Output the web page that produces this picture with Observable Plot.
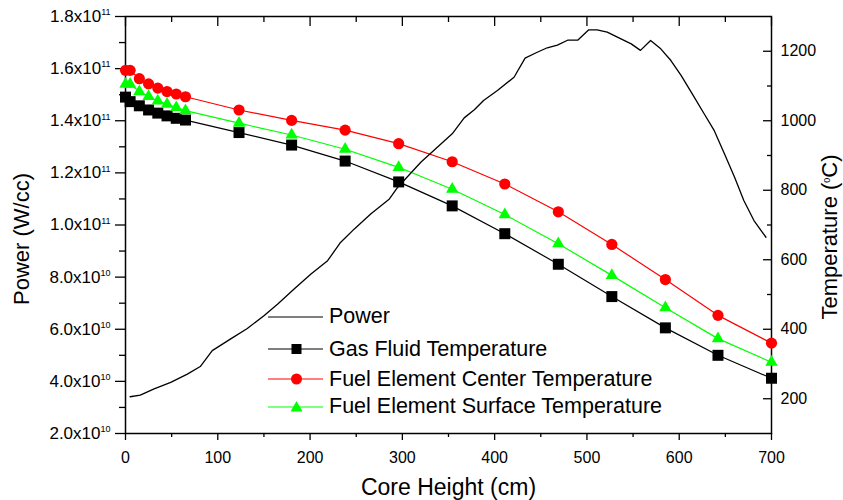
<!DOCTYPE html>
<html><head><meta charset="utf-8">
<script src="https://cdn.jsdelivr.net/npm/d3@7"></script>
<script src="https://cdn.jsdelivr.net/npm/@observablehq/plot@0.6"></script>
<style>
body{margin:0;background:#fff;}
#wrap{position:relative;width:843px;height:500px;font-family:"Liberation Sans",Arial,sans-serif;}
.leg{position:absolute;left:268px;height:30px;font-size:21.5px;display:flex;align-items:center;white-space:nowrap;color:#000}
.leg svg{margin-right:6px}
</style></head><body><div id="wrap"></div>
<script>
// ---- data ----
const heights = [0,5,15,25,35,45,55,65,123,180,238,296,354,411,469,527,585,642,700];
const gasTemp = [1068,1055,1043,1031,1022,1014,1007,1002,966,930,884,824,755,675,587,494,404,325,259];
const centerTemp = [1145,1145,1121,1106,1094,1084,1077,1069,1031,1001,973,934,882,818,738,644,543,440,360];
const surfaceTemp = [1105,1105,1084,1070,1057,1048,1038,1029,993,959,918,866,803,730,646,555,462,373,305];
const powerX = [5,16,31,49,67,81,94,114,132,150,165,183,201,219,233,248,266,286,295,305,320,334,354,367,378,388,403,421,433,445,457,468,479,490,502,511,522,533,548,558,569,580,591,602,613,627,638,649,660,670,681,694];
const powerE10 = [3.41,3.47,3.71,3.96,4.28,4.57,5.18,5.63,6.03,6.52,6.97,7.55,8.12,8.63,9.33,9.85,10.43,11.0,11.45,11.83,12.41,12.86,13.50,14.11,14.42,14.78,15.16,15.67,16.40,16.61,16.80,16.90,17.09,17.09,17.49,17.49,17.40,17.21,16.95,16.70,17.08,16.76,16.31,15.74,15.10,14.27,13.62,12.73,11.83,10.94,10.17,9.53];
const xTicks = [0,100,200,300,400,500,600,700];
const xMinor = [50,150,250,350,450,550,650];
const powerTicks = [2e10,4e10,6e10,8e10,1e11,1.2e11,1.4e11,1.6e11,1.8e11];
const powerMinor = [3e10,5e10,7e10,9e10,1.1e11,1.3e11,1.5e11,1.7e11];
const tempTicks = [200,400,600,800,1000,1200];
const tempMinor = [300,500,700,900,1100];
const seriesNames = ["Power","Gas Fluid Temperature","Fuel Element Center Temperature","Fuel Element Surface Temperature"];

// ---- scales ----
const P0 = 2e10, P1 = 1.8e11, T0 = 100, T1 = 1300;
const tToP = t => P0 + (t - T0) * (P1 - P0) / (T1 - T0);
const pToT = p => T0 + (p - P0) * (T1 - T0) / (P1 - P0);

const power = powerX.map((x,i)=>({x, p: powerE10[i]*1e10}));
const mk = arr => heights.map((h,i)=>({h, t: arr[i]}));
const gas = mk(gasTemp), center = mk(centerTemp), surface = mk(surfaceTemp);

const fmtP = d => { const e = Math.floor(Math.log10(d)+1e-9); const m = d/Math.pow(10,e); return `${m.toFixed(1)}x10^{${e}}`; };
const blank = () => "";

const plot = Plot.plot({
  width: 843, height: 500,
  marginLeft: 125, marginRight: 72, marginTop: 16, marginBottom: 67,
  x: {domain: [0, 700]},
  y: {domain: [P0, P1]},
  style: {fontFamily: '"Liberation Sans", Arial, sans-serif', fontSize: "16px", color: "black", background: "white"},
  marks: [
    Plot.axisX({ticks: xTicks, tickSize: 7, tickPadding: 11, label: null, strokeWidth: 1.3}),
    Plot.axisX({ticks: xMinor, tickSize: 4, tickFormat: blank, label: null, strokeWidth: 1.3}),
    Plot.axisX({anchor: "top", ticks: xTicks, tickSize: -9, tickFormat: blank, label: null, strokeWidth: 1.3}),
    Plot.axisX({anchor: "top", ticks: xMinor, tickSize: -5, tickFormat: blank, label: null, strokeWidth: 1.3}),
    Plot.axisY({ticks: powerTicks, tickSize: 10, tickPadding: 5, tickFormat: fmtP, label: null, strokeWidth: 1.3, fontSize: 17}),
    Plot.axisY({ticks: powerMinor, tickSize: 6, tickFormat: blank, label: null, strokeWidth: 1.3}),
    Plot.axisY({anchor: "right", ticks: tempTicks.map(tToP), tickSize: 0, tickPadding: 9, tickFormat: d => String(Math.round(pToT(d))), label: null}),
    Plot.axisY({anchor: "right", ticks: tempTicks.map(tToP), tickSize: -9, tickFormat: blank, label: null, strokeWidth: 1.3}),
    Plot.axisY({anchor: "right", ticks: tempMinor.map(tToP), tickSize: -5, tickFormat: blank, label: null, strokeWidth: 1.3}),
    Plot.frame({stroke: "black", strokeWidth: 1.5}),
    Plot.line(gas, {x: "h", y: d => tToP(d.t), stroke: "black", strokeWidth: 1.2}),
    Plot.line(center, {x: "h", y: d => tToP(d.t), stroke: "#ff0000", strokeWidth: 1.2}),
    Plot.line(surface, {x: "h", y: d => tToP(d.t), stroke: "#00ff00", strokeWidth: 1.2}),
    Plot.line(power, {x: "x", y: "p", stroke: "black", strokeWidth: 1.3}),
    Plot.dot(gas, {x: "h", y: d => tToP(d.t), symbol: "square", r: 6.2, fill: "black", stroke: "none"}),
    Plot.dot(center, {x: "h", y: d => tToP(d.t), symbol: "circle", r: 5.6, fill: "#ff0000", stroke: "none"}),
    Plot.dot(surface, {x: "h", y: d => tToP(d.t), symbol: "triangle", r: 4.6, fill: "#00ff00", stroke: "none"}),
    Plot.text(["Core Height (cm)"], {frameAnchor: "bottom", lineAnchor: "bottom", dy: 61, fontSize: 23}),
    Plot.text(["Power (W/cc)"], {frameAnchor: "left", textAnchor: "middle", rotate: -90, lineAnchor: "top", dx: -112, dy: 14, fontSize: 22}),
    Plot.text(["Temperature (^{0}C)"], {frameAnchor: "right", textAnchor: "middle", rotate: -90, lineAnchor: "top", dx: 50, dy: 12, fontSize: 22})
  ]
});

// superscripts: "a^{b}c" -> tspans
d3.select(plot).selectAll("text").each(function() {
  const txt = this.textContent;
  if (!txt.includes("^{")) return;
  const fs = parseFloat(getComputedStyle(this).fontSize) || 16;
  const parts = txt.split(/\^\{([^}]*)\}/);
  const el = d3.select(this);
  el.text(null);
  let raised = false;
  parts.forEach((p, i) => {
    if (i % 2 === 1) {
      el.append("tspan").attr("dy", (-0.42*fs).toFixed(1)).attr("font-size", (0.56*fs).toFixed(1)).text(p);
      raised = true;
    } else if (p.length) {
      const t = el.append("tspan").text(p);
      if (raised) { t.attr("dy", (0.42*fs).toFixed(1)); raised = false; }
    }
  });
});

const wrap = document.getElementById("wrap");
wrap.appendChild(plot);

// legend
const legendRows = [
  {name: seriesNames[0], color: "black", sym: null, cy: 316.5},
  {name: seriesNames[1], color: "black", sym: "square", cy: 349},
  {name: seriesNames[2], color: "#ff0000", sym: "circle", cy: 379},
  {name: seriesNames[3], color: "#00ff00", sym: "triangle", cy: 406.7}
];
legendRows.forEach(r => {
  const div = document.createElement("div");
  div.className = "leg";
  div.style.top = (r.cy - 15) + "px";
  let m = "";
  if (r.sym === "square") m = `<rect x="23.5" y="5" width="10" height="10" fill="${r.color}"/>`;
  if (r.sym === "circle") m = `<circle cx="28.5" cy="10" r="5.5" fill="${r.color}"/>`;
  if (r.sym === "triangle") m = `<path d="M28.5,4 L34.5,14.5 L22.5,14.5 Z" fill="${r.color}"/>`;
  div.innerHTML = `<svg width="55" height="20"><line x1="0" x2="55" y1="10" y2="10" stroke="${r.color}" stroke-width="1.2"/>${m}</svg><span>${r.name}</span>`;
  wrap.appendChild(div);
});
</script></body></html>
